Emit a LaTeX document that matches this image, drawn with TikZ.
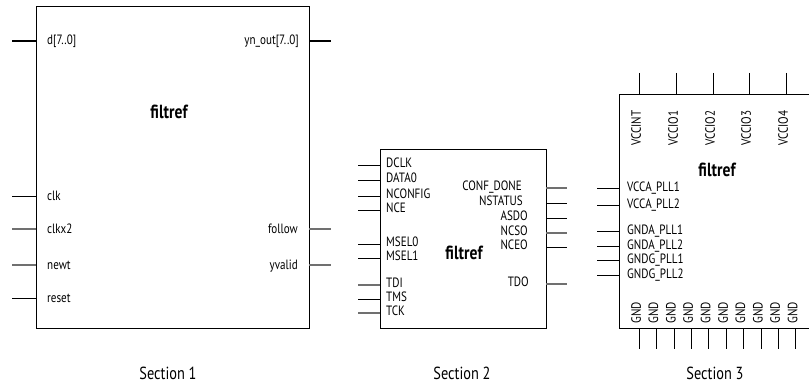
\documentclass[tikz,border=0pt]{standalone}
\usepackage{fontspec}
\setmainfont{PT Sans}[FakeStretch=0.82]
\usetikzlibrary{calc, positioning}

\begin{document}
\begin{tikzpicture}[x=1pt, y=-1pt,
    block/.style={draw=black, line width=0.8pt, inner sep=0pt},
    pinlabel/.style={inner sep=0pt, text height=1.5ex, text depth=0.2ex, font=\fontsize{13.5}{15}\selectfont},
    pin/.style={line width=0.6pt, draw=black},
    greypin/.style={line width=1.1pt, draw=pinGrey},
    buspin/.style={line width=1.6pt, draw=black},
    blocktitle/.style={inner sep=0pt, font=\fontsize{19}{21}\selectfont\bfseries},
    caption/.style={inner sep=0pt, font=\fontsize{17.5}{20}\selectfont}]

    \definecolor{pinGrey}{HTML}{707070}

    % Fix the frame of the picture
    \clip (0,0) rectangle (809,385);

    % Section 1: symbol with bus ports
    \node[block, minimum width=273pt, minimum height=322pt] (sym1) at (172.5,167) {};
    \node[blocktitle] (title1) at (169,112) {filtref};
    \node[caption] (caption1) at (168,373) {Section 1};

    % Bus ports
    \node[pinlabel, anchor=west] (d) at (47,41) {d[7..0]};
    \node[pinlabel, anchor=east] (ynout) at (299,41) {yn\_out[7..0]};
    \coordinate (d-end) at (12,41);
    \coordinate (ynout-end) at (331,41);
    \draw[buspin] (d-end) -- (sym1.west |- d-end);
    \draw[buspin] (sym1.east |- ynout-end) -- (ynout-end);

    % Input ports of section 1
    \foreach \name/\y/\kind in {clk/196/pin, clkx2/229/greypin, newt/265/greypin, reset/298/pin} {
        \node[pinlabel, anchor=west] (\name) at (47,\y+1) {\name};
        \coordinate (\name-end) at (12,\y);
        \draw[\kind] (\name-end) -- (sym1.west |- \name-end);
    }

    % Output ports of section 1
    \foreach \name/\y in {follow/229, yvalid/265} {
        \node[pinlabel, anchor=east] (\name) at (298,\y+1) {\name};
        \coordinate (\name-end) at (331,\y);
        \draw[greypin] (sym1.east |- \name-end) -- (\name-end);
    }

    % Section 2: configuration and JTAG pins
    \node[block, minimum width=166pt, minimum height=179pt] (sym2) at (463,238.5) {};
    \node[blocktitle] (title2) at (464,253) {filtref};
    \node[caption] (caption2) at (462,373) {Section 2};

    % Left pins of section 2
    \foreach \name/\txt/\y/\kind in {dclk/DCLK/165/pin, data0/DATA0/180/pin, nconfig/NCONFIG/196/pin,
            nce/NCE/210/pin, msel0/MSEL0/244/pin, msel1/MSEL1/258/pin,
            tdi/TDI/285/greypin, tms/TMS/299/pin, tck/TCK/313/greypin} {
        \node[pinlabel, anchor=west] (\name) at (386,\y-1) {\txt};
        \coordinate (\name-end) at (358,\y);
        \draw[\kind] (\name-end) -- (sym2.west |- \name-end);
    }

    % Right pins of section 2
    \foreach \name/\txt/\x/\y/\kind in {confdone/CONF\_DONE/522/188/greypin, nstatus/NSTATUS/523/203/pin,
            asdo/ASDO/528/218/pin, ncso/NCSO/528/233/greypin, nceo/NCEO/528/247/pin,
            tdo/TDO/529/284/greypin} {
        \node[pinlabel, anchor=east] (\name) at (\x,\y-1) {\txt};
        \coordinate (\name-end) at (567,\y);
        \draw[\kind] (sym2.east |- \name-end) -- (\name-end);
    }

    % Section 3: power and ground pins
    \node[block, minimum width=201pt, minimum height=234pt] (sym3) at (719.5,211) {};
    \node[blocktitle] (title3) at (717,170) {filtref};
    \node[caption] (caption3) at (715,373) {Section 3};

    % Supply pins on top
    \foreach \name/\txt/\x in {vccint/VCCINT/639, vccio1/VCCIO1/676, vccio2/VCCIO2/713,
            vccio3/VCCIO3/749, vccio4/VCCIO4/786} {
        \node[pinlabel, rotate=90] (\name) at (\x-1.5,128) {\txt};
        \coordinate (\name-end) at (\x,73);
        \draw[pin] (\name-end) -- (sym3.north -| \name-end);
    }

    % PLL supply pins on the left
    \foreach \name/\txt/\y in {vccapll1/VCCA\_PLL1/188, vccapll2/VCCA\_PLL2/205,
            gndapll1/GNDA\_PLL1/231, gndapll2/GNDA\_PLL2/246,
            gndgpll1/GNDG\_PLL1/260, gndgpll2/GNDG\_PLL2/275} {
        \node[pinlabel, anchor=west] (\name) at (627,\y) {\txt};
        \coordinate (\name-end) at (597,\y);
        \draw[pin] (\name-end) -- (sym3.west |- \name-end);
    }

    % Ground pins at the bottom
    \foreach \i in {1,...,10} {
        \pgfmathsetmacro{\gx}{639+(\i-1)*17.4}
        \node[pinlabel, rotate=90] (gnd\i) at (\gx-1.5,313) {GND};
        \coordinate (gnd\i-end) at (\gx,349);
        \draw[pin] (sym3.south -| gnd\i-end) -- (gnd\i-end);
    }

\end{tikzpicture}
\end{document}
